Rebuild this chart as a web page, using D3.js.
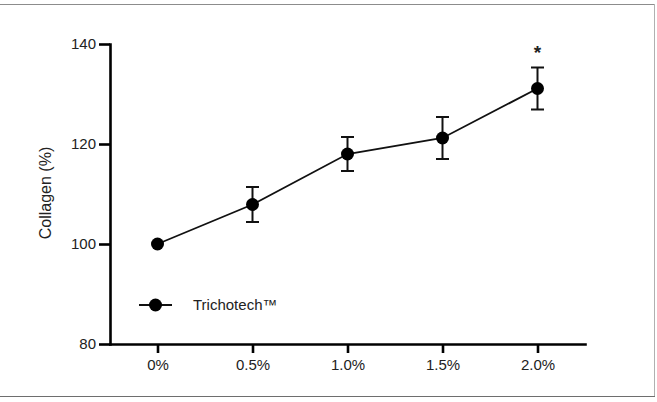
<!DOCTYPE html>
<html>
<head>
<meta charset="utf-8">
<script src="https://cdn.jsdelivr.net/npm/d3@7"></script>
<style>
  html, body { margin: 0; padding: 0; background: #fff; }
  svg text { font-family: Arial, "Liberation Sans", sans-serif; fill: #222; }
</style>
</head>
<body>
<div id="chart"></div>
<script>
// Collagen response by Trichotech concentration

const categories = ["0%", "0.5%", "1.0%", "1.5%", "2.0%"];
const collagen = [100, 107.9, 118, 121.2, 131.1];
const errors = [0, 3.5, 3.4, 4.2, 4.2];
const significance = ["", "", "", "", "*"];
const yTicks = [80, 100, 120, 140];
const seriesName = "Trichotech\u2122";

function drawChart() {
    const width = 657;
    const height = 402;

    const svg = d3.select('#chart')
        .append('svg')
        .attr('width', width)
        .attr('height', height);

    // frame around the figure
    svg.append('line').attr('x1', 0).attr('x2', 654).attr('y1', 4.5).attr('y2', 4.5)
        .attr('stroke', '#8c8c8c');
    svg.append('line').attr('x1', 654.5).attr('x2', 654.5).attr('y1', 4).attr('y2', 396)
        .attr('stroke', '#b0b0b0');
    svg.append('line').attr('x1', 0).attr('x2', 655).attr('y1', 396.5).attr('y2', 396.5)
        .attr('stroke', '#6e6e6e');

    const x = d3.scalePoint()
        .domain(categories)
        .range([110, 585])
        .padding(0.5);

    const y = d3.scaleLinear()
        .domain([80, 140])
        .range([344, 44]);

    // axes
    const yAxis = svg.append('g')
        .attr('transform', 'translate(110,0)')
        .call(d3.axisLeft(y).tickValues(yTicks).tickSize(11).tickSizeOuter(0).tickPadding(3));

    const xAxis = svg.append('g')
        .attr('transform', 'translate(0,344)')
        .call(d3.axisBottom(x).tickSize(9).tickSizeOuter(0).tickPadding(6));

    [yAxis, xAxis].forEach(g => {
        g.select('.domain').attr('stroke', '#000').attr('stroke-width', 2.6).attr('stroke-linecap', 'square');
        g.selectAll('.tick line').attr('stroke', '#000').attr('stroke-width', 2.6);
        g.selectAll('.tick text').style('font-size', '15px').attr('fill', '#222');
    });

    svg.append('text')
        .attr('transform', 'translate(51,193) rotate(-90)')
        .attr('text-anchor', 'middle')
        .style('font-size', '16px')
        .text('Collagen (%)');

    const data = categories.map((c, i) => ({
        cat: c, value: collagen[i], err: errors[i], sig: significance[i]
    }));

    // connecting line
    const line = d3.line()
        .x(d => x(d.cat))
        .y(d => y(d.value));

    svg.append('path')
        .datum(data)
        .attr('d', line)
        .attr('fill', 'none')
        .attr('stroke', '#111')
        .attr('stroke-width', 1.8);

    // error bars
    const bars = svg.selectAll('.err')
        .data(data.filter(d => d.err > 0))
        .enter()
        .append('g')
        .attr('class', 'err')
        .attr('stroke', '#111')
        .attr('stroke-width', 2);

    bars.append('line')
        .attr('x1', d => x(d.cat)).attr('x2', d => x(d.cat))
        .attr('y1', d => y(d.value + d.err)).attr('y2', d => y(d.value - d.err));
    bars.append('line')
        .attr('x1', d => x(d.cat) - 6.5).attr('x2', d => x(d.cat) + 6.5)
        .attr('y1', d => y(d.value + d.err)).attr('y2', d => y(d.value + d.err));
    bars.append('line')
        .attr('x1', d => x(d.cat) - 6.5).attr('x2', d => x(d.cat) + 6.5)
        .attr('y1', d => y(d.value - d.err)).attr('y2', d => y(d.value - d.err));

    // markers
    svg.selectAll('.dot')
        .data(data)
        .enter()
        .append('circle')
        .attr('class', 'dot')
        .attr('cx', d => x(d.cat))
        .attr('cy', d => y(d.value))
        .attr('r', 6.5)
        .attr('fill', '#000');

    // significance star
    svg.selectAll('.sig')
        .data(data.filter(d => d.sig))
        .enter()
        .append('text')
        .attr('class', 'sig')
        .attr('x', d => x(d.cat))
        .attr('y', d => y(d.value + d.err) - 9)
        .attr('text-anchor', 'middle')
        .style('font-size', '19px')
        .style('font-weight', 'bold')
        .text(d => d.sig);

    // legend
    const legend = svg.append('g').attr('transform', 'translate(139,305)');
    legend.append('line').attr('x1', 0).attr('x2', 33).attr('y1', 0).attr('y2', 0)
        .attr('stroke', '#111').attr('stroke-width', 1.8);
    legend.append('circle').attr('cx', 16.5).attr('cy', 0).attr('r', 6.5).attr('fill', '#000');
    legend.append('text')
        .attr('x', 54)
        .attr('dy', '0.35em')
        .style('font-size', '15px')
        .text(seriesName);
}

document.addEventListener('DOMContentLoaded', drawChart);
</script>
</body>
</html>
